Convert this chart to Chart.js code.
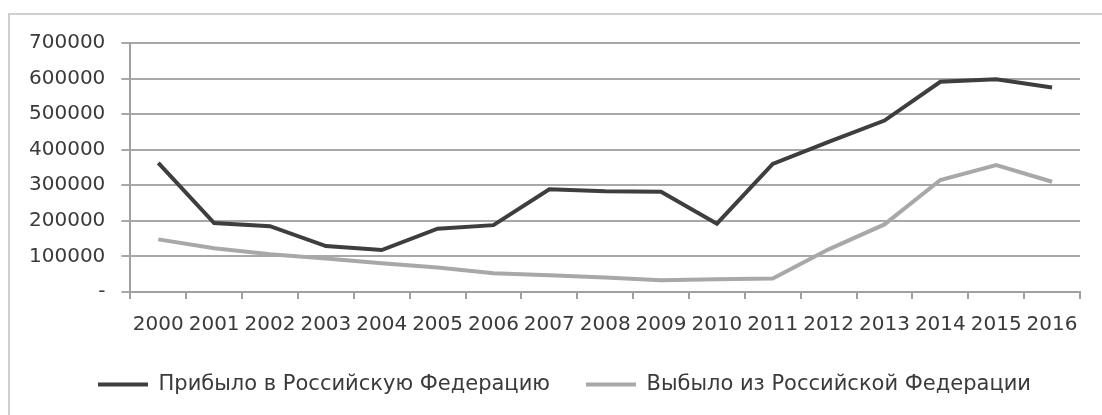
<!DOCTYPE html>
<html>
<head>
<meta charset="utf-8">
<script src="https://cdn.jsdelivr.net/npm/chart.js@4/dist/chart.umd.min.js"></script>
<style>
    html, body { margin: 0; padding: 0; background: #fff; }
    #wrap { position: relative; width: 1102px; height: 415px; overflow: hidden; }
    #frame {
        position: absolute; left: 8px; top: 13px; width: 1200px; height: 500px;
        border-top: 2px solid #cfcfcf; border-left: 2px solid #cfcfcf;
    }
    canvas { position: absolute; left: 0; top: 0; }
</style>
</head>
<body>
<div id="wrap">
    <div id="frame"></div>
    <canvas id="migration-chart" width="1102" height="415"></canvas>
</div>
<script>
// Миграция: прибыло / выбыло, человек
const years = ['2000', '2001', '2002', '2003', '2004', '2005', '2006', '2007', '2008',
               '2009', '2010', '2011', '2012', '2013', '2014', '2015', '2016'];

const arrived = [363000, 194000, 185000, 129000, 118000, 178000, 188000, 289000, 283000,
                 282000, 192000, 360000, 422000, 482000, 591000, 598000, 575000];

const departed = [148000, 123000, 106000, 94000, 81000, 69000, 53000, 47000, 41000,
                  33000, 36000, 38000, 120000, 190000, 315000, 357000, 310000];

const yTicks = [0, 100000, 200000, 300000, 400000, 500000, 600000, 700000];

const colors = {
    dark: '#3e3e3e',
    light: '#a8a8a8',
    grid: '#a8a8a8',
    axis: '#a0a0a0',
    text: '#3a3a3a'
};

Chart.defaults.font.family = "'DejaVu Sans', sans-serif";
Chart.defaults.font.size = 20;
Chart.defaults.color = colors.text;

// legend sits a little right of centre in the original
const legendShift = {
    id: 'legendShift',
    afterLayout: (chart) => {
        chart.legend.left += 18;
        chart.legend.right += 18;
    }
};

new Chart(document.getElementById('migration-chart'), {
    type: 'line',
    data: {
        labels: years,
        datasets: [
            {
                label: 'Прибыло в Российскую Федерацию',
                data: arrived,
                borderColor: colors.dark,
                backgroundColor: colors.dark,
                borderWidth: 4,
                pointRadius: 0,
                tension: 0
            },
            {
                label: 'Выбыло из Российской Федерации',
                data: departed,
                borderColor: colors.light,
                backgroundColor: colors.light,
                borderWidth: 4,
                pointRadius: 0,
                tension: 0
            }
        ]
    },
    plugins: [legendShift],
    options: {
        responsive: false,
        animation: false,
        layout: {
            padding: { left: 13, right: 22, top: 43, bottom: 10 }
        },
        plugins: {
            legend: {
                position: 'bottom',
                labels: {
                    usePointStyle: true,
                    pointStyle: 'line',
                    pointStyleWidth: 50,
                    padding: 36,
                    color: colors.text,
                    font: { size: 21 }
                }
            },
            tooltip: { enabled: false }
        },
        scales: {
            x: {
                offset: true,
                afterFit: (scale) => { scale.height -= 13; },
                grid: {
                    offset: true,
                    drawOnChartArea: false,
                    tickLength: 7,
                    color: colors.axis,
                    lineWidth: 2
                },
                border: { color: colors.axis, width: 2 },
                ticks: { padding: 14, maxRotation: 0, autoSkip: false }
            },
            y: {
                min: 0,
                max: 700000,
                afterBuildTicks: (scale) => {
                    scale.ticks = yTicks.map(v => ({ value: v }));
                },
                grid: {
                    color: colors.grid,
                    lineWidth: 2,
                    tickLength: 9
                },
                border: { color: colors.axis, width: 2 },
                ticks: {
                    padding: 16,
                    callback: (value) => value === 0 ? '-' : value
                }
            }
        }
    }
});
</script>
</body>
</html>
